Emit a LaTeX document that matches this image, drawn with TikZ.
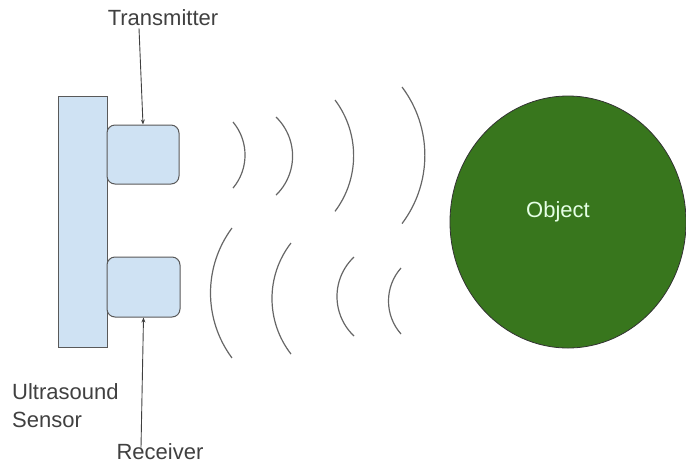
\documentclass[tikz,border=0pt]{standalone}
\usepackage{fontspec}
\setmainfont{Liberation Sans}
\usepackage{xcolor}
\usetikzlibrary{shapes,arrows.meta,positioning}

\definecolor{sensorblue}{HTML}{CFE2F3}
\definecolor{edgegray}{HTML}{595959}
\definecolor{objgreen}{HTML}{38761D}
\definecolor{wavegray}{HTML}{666666}

\begin{document}
\begin{tikzpicture}[
  x=1pt, y=-1pt,
  body/.style={
    rectangle,
    draw=edgegray,
    fill=sensorblue,
    line width=1pt
  },
  part/.style={
    rectangle,
    rounded corners=8pt,
    draw=edgegray,
    fill=sensorblue,
    line width=1pt
  },
  label/.style={
    font=\fontsize{22}{28}\selectfont,
    text=black!75,
    inner sep=2pt
  },
  wave/.style={
    draw=wavegray,
    line width=1.2pt
  },
  arrow/.style={
    -{Stealth[length=5pt,width=4pt]},
    draw=black!75,
    line width=0.9pt
  }
]

  \useasboundingbox (0,0) rectangle (686,467);

  % Sensor body and its two parts
  \node[body, minimum width=49, minimum height=251] (sensor) at (82.5,221.5) {};
  \node[part, minimum width=72, minimum height=59] (tx) at (143,154.5) {};
  \node[part, minimum width=73, minimum height=60] (rx) at (143.5,287) {};

  % Object
  \node[ellipse, draw=black!80, fill=objgreen, line width=0.8pt,
        minimum width=236, minimum height=252] (object) at (568,222) {};
  \node[label, text=green!10!white] (objlabel) at (558,212) {Object};

  % Labels
  \node[label] (txlabel) at (163,18) {Transmitter};
  \node[label] (rxlabel) at (160,452) {Receiver};
  \node[label, anchor=west, align=left] (sensorlabel) at (10,406) {Ultrasound\\Sensor};

  % Arrows
  \draw[arrow] ([xshift=-24]txlabel.south) -- (tx.north);
  \draw[arrow] ([xshift=-19,yshift=-6]rxlabel.north) -- (rx.south);

  % Outgoing waves
  \draw[wave] (233,122) arc[start angle=-40, end angle=40, radius=51.4];
  \draw[wave] (276,117) arc[start angle=-46, end angle=46, radius=54.3];
  \draw[wave] (335,100) arc[start angle=-37, end angle=37, radius=92.5];
  \draw[wave] (402,87) arc[start angle=-37, end angle=37, radius=113.5];

  % Reflected waves
  \draw[wave] (232,228) arc[start angle=216.6, end angle=143.4, radius=109];
  \draw[wave] (291,243) arc[start angle=217.8, end angle=142.2, radius=90.6];
  \draw[wave] (354,257) arc[start angle=226.6, end angle=133.4, radius=54.4];
  \draw[wave] (401,268) arc[start angle=221.5, end angle=138.5, radius=49.8];

\end{tikzpicture}
\end{document}
